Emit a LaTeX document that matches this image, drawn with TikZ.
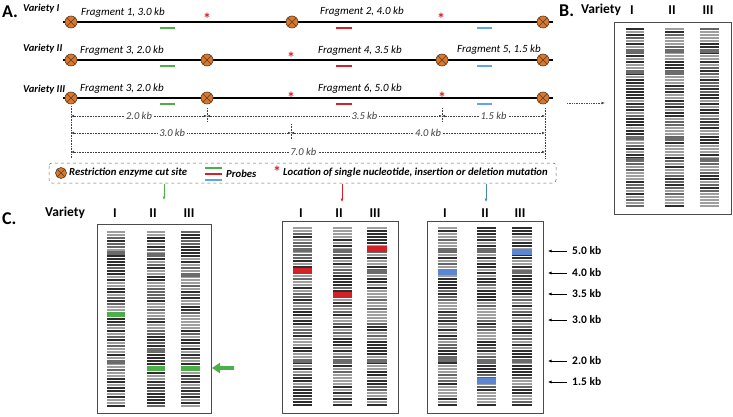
\documentclass[tikz,border=0pt]{standalone}
\usepackage{fontspec}
\setmainfont{Carlito}
\usetikzlibrary{arrows.meta}
\definecolor{cutfill}{HTML}{D9772F}
\definecolor{cutdraw}{HTML}{5A3A1E}
\definecolor{pgreen}{HTML}{4EAE4A}
\definecolor{pred}{HTML}{D32128}
\definecolor{pblue}{HTML}{5DA6E8}
\definecolor{bblue}{HTML}{5C86D2}
\newcommand\gellane[4]{%
  \pgfmathsetmacro\nb{int((#4-#3)/3)}%
  \foreach \k in {0,...,\nb}{%
    \pgfmathsetmacro\gr{random(0,9)}%
    \pgfmathsetmacro\gg{int(\gr<4 ? 38 : (\gr<8 ? 82 : 60))}%
    \draw[line width=1.1pt, black!\gg] (#1,{#3+3*\k}) -- (#2,{#3+3*\k});
  }%
}
\newcommand\darkband[3]{\fill[black!58] (#1,{#3-2}) rectangle (#2,{#3+2});}
\tikzset{
  cut/.style={circle, draw=cutdraw, fill=cutfill, minimum size=12pt, inner sep=0pt, line width=0.6pt,
    path picture={\draw[cutdraw, line width=0.6pt] (path picture bounding box.north west)--(path picture bounding box.south east) (path picture bounding box.north east)--(path picture bounding box.south west);}},
  dna/.style={line width=2.6pt, black},
  probe/.style={line width=2.2pt},
  frag/.style={font=\fontsize{11}{12}\selectfont\itshape, inner sep=0pt},
  vlab/.style={font=\fontsize{10.5}{11}\selectfont\bfseries\itshape, inner sep=0pt, anchor=west},
  mut/.style={font=\fontsize{16}{16}\selectfont\bfseries, text=pred, inner sep=0pt, anchor=base},
  dim/.style={densely dotted, black!75, line width=0.6pt, {Latex[length=3pt,width=2.6pt]}-{Latex[length=3pt,width=2.6pt]}},
  dimlab/.style={font=\fontsize{10.5}{11}\selectfont\itshape, fill=white, inner sep=1.5pt},
  tick/.style={densely dotted, black!75, line width=0.6pt},
  panel/.style={font=\fontsize{18}{19}\selectfont\bfseries, inner sep=0pt, anchor=west},
  head/.style={font=\fontsize{13.5}{14}\selectfont\bfseries, inner sep=0pt},
  gelbox/.style={draw=black!70, line width=0.8pt},
  leg/.style={font=\fontsize{10.7}{11}\selectfont\bfseries\itshape, inner sep=0pt, anchor=west},
  size/.style={font=\fontsize{11.5}{12}\selectfont\bfseries, inner sep=0pt, anchor=west},
}
\begin{document}
\pgfmathsetseed{7}
\begin{tikzpicture}[x=1pt,y=-1pt]
\useasboundingbox (0,0) rectangle (733,417);
% ---------- A ----------
\node[panel] (A) at (2,12) {A.};
\node[vlab] (v1) at (23,9) {Variety I};
\node[vlab] (v2) at (23,49) {Variety II};
\node[vlab] (v3) at (23,90) {Variety III};
\coordinate (l1s) at (63,22); \coordinate (l1e) at (553,22);
\coordinate (l2s) at (63,60); \coordinate (l2e) at (553,60);
\coordinate (l3s) at (63,98); \coordinate (l3e) at (553,98);
\draw[dna] (l1s) -- (l1e);
\draw[dna] (l2s) -- (l2e);
\draw[dna] (l3s) -- (l3e);
\node[cut] (c11) at (71,22) {}; \node[cut] (c12) at (292,22) {}; \node[cut] (c13) at (543,22) {};
\node[cut] (c21) at (71,60) {}; \node[cut] (c22) at (207,60) {}; \node[cut] (c23) at (442,60) {}; \node[cut] (c24) at (543,60) {};
\node[cut] (c31) at (71,98) {}; \node[cut] (c32) at (207,98) {}; \node[cut] (c33) at (543,98) {};
% fragment labels
\node[frag] (f1) at (123,13) {Fragment 1, 3.0 kb};
\node[frag] (f2) at (362,12) {Fragment 2, 4.0 kb};
\node[frag] (f3) at (122,51) {Fragment 3, 2.0 kb};
\node[frag] (f4) at (360,51) {Fragment 4, 3.5 kb};
\node[frag] (f5) at (499,50) {Fragment 5, 1.5 kb};
\node[frag] (f3b) at (122,89) {Fragment 3, 2.0 kb};
\node[frag] (f6) at (360,89) {Fragment 6, 5.0 kb};
% mutations
\node[mut] (m11) at (207,25) {*}; \node[mut] (m12) at (441,25) {*};
\node[mut] (m21) at (291,64) {*};
\node[mut] (m31) at (291,103) {*}; \node[mut] (m32) at (442,103) {*};
% probes
\foreach \yy in {28,66,104}{
  \draw[probe, pgreen] (160,\yy) -- (175,\yy);
  \draw[probe, pred] (336,\yy) -- (352,\yy);
  \draw[probe, pblue] (477,\yy) -- (492,\yy);
}
% dimension lines
\coordinate (d0a) at (71,116); \coordinate (d2a) at (207,116); \coordinate (d5a) at (442,116); \coordinate (d7a) at (545,116);
\coordinate (d0b) at (71,133); \coordinate (d3b) at (291,133); \coordinate (d7b) at (545,133);
\coordinate (d0c) at (71,152); \coordinate (d7c) at (545,152);
\draw[tick] (71,106) -- (71,158);
\draw[tick] (207,108) -- (207,122);
\draw[tick] (291,124) -- (291,140);
\draw[tick] (442,108) -- (442,121);
\draw[tick] (545,108) -- (545,158);
\draw[dim] (d0a) -- node[dimlab] (k20) {2.0 kb} (d2a);
\draw[dim] (d2a) -- node[dimlab, pos=0.67] (k35) {3.5 kb} (d5a);
\draw[dim] (d5a) -- node[dimlab, pos=0.5] (k15) {1.5 kb} (d7a);
\draw[dim] (d0b) -- node[dimlab, pos=0.46] (k30) {3.0 kb} (d3b);
\draw[dim] (d3b) -- node[dimlab, pos=0.54] (k40) {4.0 kb} (d7b);
\draw[dim] (d0c) -- node[dimlab, pos=0.49] (k70) {7.0 kb} (d7c);
% legend
\draw[dashed, black!60, rounded corners=3pt, line width=0.5pt] (49,163) rectangle (556,183);
\node[cut, minimum size=11pt] (lc) at (61,173) {};
\node[leg] (lt1) at (69,172.5) {Restriction enzyme cut site};
\draw[line width=1.8pt, pgreen] (205,168) -- (222,168);
\draw[line width=1.8pt, pred] (205,174) -- (222,174);
\draw[line width=1.8pt, pblue] (205,180) -- (222,180);
\node[leg] (lt2) at (226,173.5) {Probes};
\node[mut] (lm) at (277,177) {*};
\node[leg] (lt3) at (283,172.5) {Location of single nucleotide, insertion or deletion mutation};
\coordinate (ag1) at (164,184); \coordinate (ag2) at (164,200);
\coordinate (ar1) at (342,184); \coordinate (ar2) at (342,202);
\coordinate (ab1) at (486,184); \coordinate (ab2) at (486,202);
\draw[pgreen, line width=0.6pt, -{Latex[length=3.5pt,width=3pt]}] (ag1) -- (ag2);
\draw[pred, line width=0.6pt, -{Latex[length=3.5pt,width=3pt]}] (ar1) -- (ar2);
\draw[pblue!80!black, line width=0.6pt, -{Latex[length=3.5pt,width=3pt]}] (ab1) -- (ab2);
% arrow to B
\coordinate (ab) at (567,103); \coordinate (bb) at (605,103);
\draw[densely dotted, black!70, line width=0.7pt, -{Latex[length=3.5pt,width=3pt]}] (ab) -- (bb);
% ---------- B ----------
\node[panel] (B) at (559,11) {B.};
\node[head, anchor=west] (bv) at (581,10) {Variety};
\node[head] (b1) at (632,10) {I};
\node[head] (b2) at (672,10) {II};
\node[head] (b3) at (708,10) {III};
\draw[gelbox] (614,22) rectangle (731,214);
\gellane{626}{644}{29}{207}
\gellane{665}{684}{29}{207}
\gellane{700}{719}{29}{207}
\darkband{626}{644}{51}\darkband{665}{684}{51}\darkband{700}{719}{51}
\darkband{626}{644}{72}\darkband{665}{684}{73}
\darkband{626}{644}{138}\darkband{665}{684}{139}
\darkband{626}{644}{160}\darkband{700}{719}{160}
% ---------- C ----------
\node[panel] (C) at (2,219) {C.};
\node[head, anchor=west] (cv) at (45,213) {Variety};
\node[head] (c1) at (115,213) {I};
\node[head] (c2) at (153,213) {II};
\node[head] (c3) at (189,213) {III};
\draw[gelbox] (97,224) rectangle (211,413);
\gellane{107}{125}{232}{407}
\gellane{147}{165}{232}{407}
\gellane{181}{200}{232}{407}
\darkband{107}{125}{253}\darkband{147}{165}{255}\darkband{181}{200}{275}
\darkband{107}{125}{362}\darkband{147}{165}{350}
\fill[pgreen] (107,311.5) rectangle (125,316.5);
\fill[pgreen] (147,365.5) rectangle (165,370.5);
\fill[pgreen] (181,365.5) rectangle (200,370.5);
\coordinate (ga1) at (234,368); \coordinate (ga2) at (212,368);
\draw[pgreen, line width=3.2pt, -{Triangle[length=8pt,width=10pt]}] (ga1) -- (ga2);
% panel 2
\node[head] (r1) at (301,213) {I};
\node[head] (r2) at (339,213) {II};
\node[head] (r3) at (375,213) {III};
\draw[gelbox] (282,221) rectangle (398,413);
\gellane{293}{312}{228}{407}
\gellane{333}{352}{228}{407}
\gellane{367}{387}{228}{407}
\darkband{293}{312}{250}\darkband{333}{352}{251}\darkband{367}{387}{272}
\darkband{293}{312}{361}\darkband{333}{352}{362}\darkband{367}{387}{361}
\fill[pred] (293,268) rectangle (312,274);
\fill[pred] (333,292) rectangle (352,298);
\fill[pred] (367,246) rectangle (387,252);
% panel 3
\node[head] (u1) at (445,213) {I};
\node[head] (u2) at (485,213) {II};
\node[head] (u3) at (520,213) {III};
\draw[gelbox] (427,221) rectangle (543,413);
\gellane{438}{457}{228}{407}
\gellane{477}{496}{228}{407}
\gellane{512}{532}{228}{407}
\darkband{438}{457}{250}\darkband{477}{496}{251}\darkband{512}{532}{272}
\darkband{438}{457}{360}\darkband{477}{496}{361}\darkband{512}{532}{361}
\fill[bblue] (438,269) rectangle (457,275);
\fill[bblue] (477,378) rectangle (496,384);
\fill[bblue] (512,249) rectangle (532,255);
% size markers
\foreach \yy/\lab/\nm in {251/5.0 kb/s5, 273/4.0 kb/s4, 294/3.5 kb/s35, 320/3.0 kb/s3, 361/2.0 kb/s2, 382/1.5 kb/s15}{
  \node[size] (\nm) at (572,\yy) {\lab};
  \coordinate (\nm a) at (567,\yy);
  \coordinate (\nm b) at (548,\yy);
  \draw[black, line width=0.6pt, -{Latex[length=3.5pt,width=3pt]}] (\nm a) -- (\nm b);
}
\end{tikzpicture}
\end{document}
